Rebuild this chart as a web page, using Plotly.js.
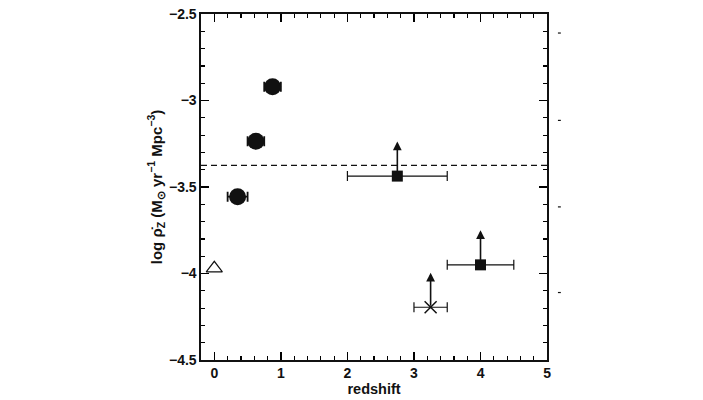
<!DOCTYPE html>
<html>
<head>
<meta charset="utf-8">
<script src="https://cdn.plot.ly/plotly-3.0.1.min.js"></script>
<style>body{margin:0;background:#fff}</style>
</head>
<body>
<div id="grafico" style="width:703px;height:400px"></div>
<script>
// puntos con circulo lleno
var zCirculos = [0.35, 0.625, 0.875];
var rhoCirculos = [-3.556, -3.236, -2.92];
var errCirculos = [0.15, 0.125, 0.125];

// z = 0, triangulo abierto
var zTriangulo = [0];
var rhoTriangulo = [-3.97];

// cuadrados con limite inferior
var zCuadrados = [2.75, 4.0];
var rhoCuadrados = [-3.437, -3.95];
var errCuadrados = [0.75, 0.5];

// cruz con limite inferior
var zCruz = [3.25];
var rhoCruz = [-4.195];
var errCruz = [0.25];

var nivelLinea = -3.375;
var largoFlecha = 0.2;

// marcas sueltas del lado derecho
var marcasDerecha = [-2.61, -3.115, -3.615, -4.11];

var negro = '#111';
var familia = 'Liberation Sans, Arial, sans-serif';
var fuente = {family: familia, size: 14, color: negro, weight: 'bold'};

var circulos = {
  x: zCirculos, y: rhoCirculos, mode: 'markers', type: 'scatter',
  marker: {symbol: 'circle', size: 17, color: negro},
  error_x: {type: 'data', array: errCirculos, color: negro, thickness: 1.8, width: 5}
};
var triangulo = {
  x: zTriangulo, y: rhoTriangulo, mode: 'markers', type: 'scatter',
  marker: {symbol: 'triangle-up-open', size: 14, color: negro, line: {width: 1.2}}
};
var cuadrados = {
  x: zCuadrados, y: rhoCuadrados, mode: 'markers', type: 'scatter',
  marker: {symbol: 'square', size: 11, color: negro},
  error_x: {type: 'data', array: errCuadrados, color: negro, thickness: 1.2, width: 5}
};
var cruz = {
  x: zCruz, y: rhoCruz, mode: 'markers', type: 'scatter',
  marker: {symbol: 'x-thin', size: 12, color: negro, line: {width: 1.5, color: negro}},
  error_x: {type: 'data', array: errCruz, color: negro, thickness: 1.2, width: 5}
};
var linea = {
  x: [-0.2, 5], y: [nivelLinea, nivelLinea], mode: 'lines', type: 'scatter',
  line: {color: negro, width: 1.3, dash: '6px,4px'}, hoverinfo: 'skip'
};

var flechas = [];
function agregarFlechas(xs, ys) {
  for (let i = 0; i < xs.length; i++) {
    flechas.push({
      x: xs[i], y: ys[i] + largoFlecha, ax: xs[i], ay: ys[i],
      xref: 'x', yref: 'y', axref: 'x', ayref: 'y',
      showarrow: true, arrowhead: 2, arrowsize: 1.1, arrowwidth: 1.6, arrowcolor: negro,
      text: ''
    });
  }
}
agregarFlechas(zCuadrados, rhoCuadrados);
agregarFlechas(zCruz, rhoCruz);

// marcas cortas fuera del marco, a la derecha
var marcas = marcasDerecha.map(function (v) {
  return {type: 'line', xref: 'paper', yref: 'y', x0: 0.986, x1: 0.994, y0: v, y1: v,
          line: {color: negro, width: 1.2}};
});

var layout = {
  width: 703, height: 400,
  margin: {l: 201, r: 140, t: 14, b: 40},
  paper_bgcolor: '#fff', plot_bgcolor: '#fff',
  showlegend: false,
  font: fuente,
  xaxis: {
    domain: [0, 0.956],
    range: [-0.2, 5], tickmode: 'linear', tick0: 0, dtick: 1,
    ticks: 'inside', ticklen: 8, tickwidth: 1.5, tickcolor: '#000',
    minor: {tickmode: 'linear', tick0: 0, dtick: 0.2, ticks: 'inside', ticklen: 4, tickwidth: 1.2, tickcolor: '#000'},
    showline: true, linecolor: negro, linewidth: 1.6, mirror: 'allticks',
    showgrid: false, zeroline: false,
    title: {text: 'redshift', font: {family: familia, size: 14.5, color: negro, weight: 'bold'}, standoff: 2}
  },
  yaxis: {
    range: [-4.5, -2.5], tickmode: 'linear', tick0: -4.5, dtick: 0.5,
    ticks: 'inside', ticklen: 8, tickwidth: 1.5, tickcolor: '#000',
    minor: {tickmode: 'linear', tick0: -4.5, dtick: 0.1, ticks: 'inside', ticklen: 4, tickwidth: 1.2, tickcolor: '#000'},
    showline: true, linecolor: negro, linewidth: 1.6, mirror: 'allticks',
    showgrid: false, zeroline: false,
    title: {text: 'log ρ̇<sub>Z</sub> (M<sub>⊙</sub> yr<sup>−1</sup> Mpc<sup>−3</sup>)',
            font: {family: familia, size: 15, color: negro, weight: 'bold'}, standoff: 3}
  },
  shapes: marcas,
  annotations: flechas
};

Plotly.newPlot('grafico', [linea, circulos, triangulo, cuadrados, cruz], layout,
  {staticPlot: true, displayModeBar: false});
</script>
</body>
</html>
